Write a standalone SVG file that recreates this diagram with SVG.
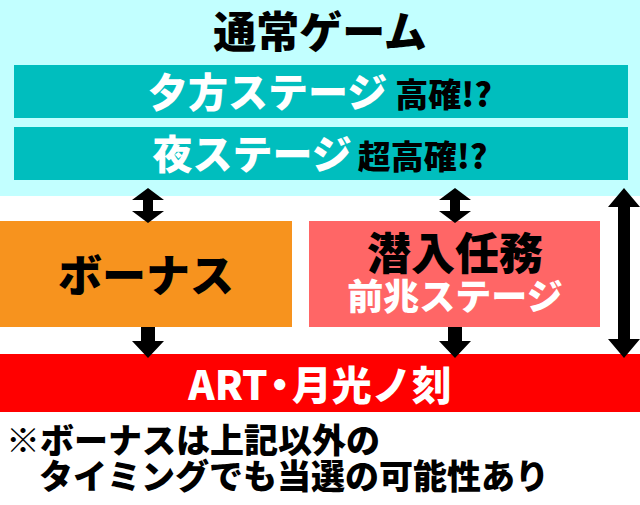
<svg xmlns="http://www.w3.org/2000/svg" width="640" height="505" viewBox="0 0 640 505">
<style>
text{font-family:"Noto Sans CJK JP","Noto Sans",sans-serif;font-weight:900}
.c{text-anchor:middle}
.w{fill:#fff}
.k{fill:#000}
.arr{fill:#000}
</style>
<rect width="640" height="505" fill="#fff"/>
<g id="normal-game">
<rect x="0" y="0" width="640" height="196" fill="#C2FFFF"/>
<text class="c k" x="320" y="48" font-size="43">通常ゲーム</text>
</g>
<g id="evening-stage">
<rect x="14" y="65" width="614" height="53" fill="#00BEBE"/>
<text class="c" x="320" y="107"><tspan class="w" font-size="40">夕方ステージ</tspan><tspan class="k" font-size="33" dx="8">高確!?</tspan></text>
</g>
<g id="night-stage">
<rect x="14" y="127" width="614" height="53" fill="#00BEBE"/>
<text class="c" x="320" y="169"><tspan class="w" font-size="40">夜ステージ</tspan><tspan class="k" font-size="33" dx="6">超高確!?</tspan></text>
</g>
<g id="bonus">
<rect x="0" y="221" width="292" height="106" fill="#F7931E"/>
<text class="c k" x="146" y="292" font-size="44">ボーナス</text>
</g>
<g id="mission">
<rect x="309" y="221" width="291" height="106" fill="#FF6666"/>
<text class="c k" x="455" y="270" font-size="44">潜入任務</text>
<text class="c w" x="455" y="310" font-size="36">前兆ステージ</text>
</g>
<g id="art">
<rect x="0" y="354" width="640" height="58" fill="#FF0000"/>
<text class="c w" x="320" y="400" font-size="40"><tspan>ART</tspan><tspan dx="-8">・</tspan><tspan dx="-8">月光ノ刻</tspan></text>
</g>
<g id="note">
<text class="k" x="6" y="453" font-size="34">※ボーナスは上記以外の</text>
<text class="k" x="39" y="489" font-size="34">タイミングでも当選の可能性あり</text>
</g>
<g id="connectors">
<path class="arr" d="M148,188 L164,200 L153,200 L153,211 L164,211 L148,223 L132,211 L143,211 L143,200 L132,200 Z"/>
<path class="arr" d="M455,188 L471,200 L460,200 L460,211 L471,211 L455,223 L439,211 L450,211 L450,200 L439,200 Z"/>
<path class="arr" d="M141,327 L155,327 L155,341 L164,341 L148,358 L132,341 L141,341 Z"/>
<path class="arr" d="M448,327 L462,327 L462,341 L471,341 L455,358 L439,341 L448,341 Z"/>
<path class="arr" d="M624,188 L640,207 L630,207 L630,339 L640,339 L624,358 L608,339 L618,339 L618,207 L608,207 Z"/>
</g>
</svg>
